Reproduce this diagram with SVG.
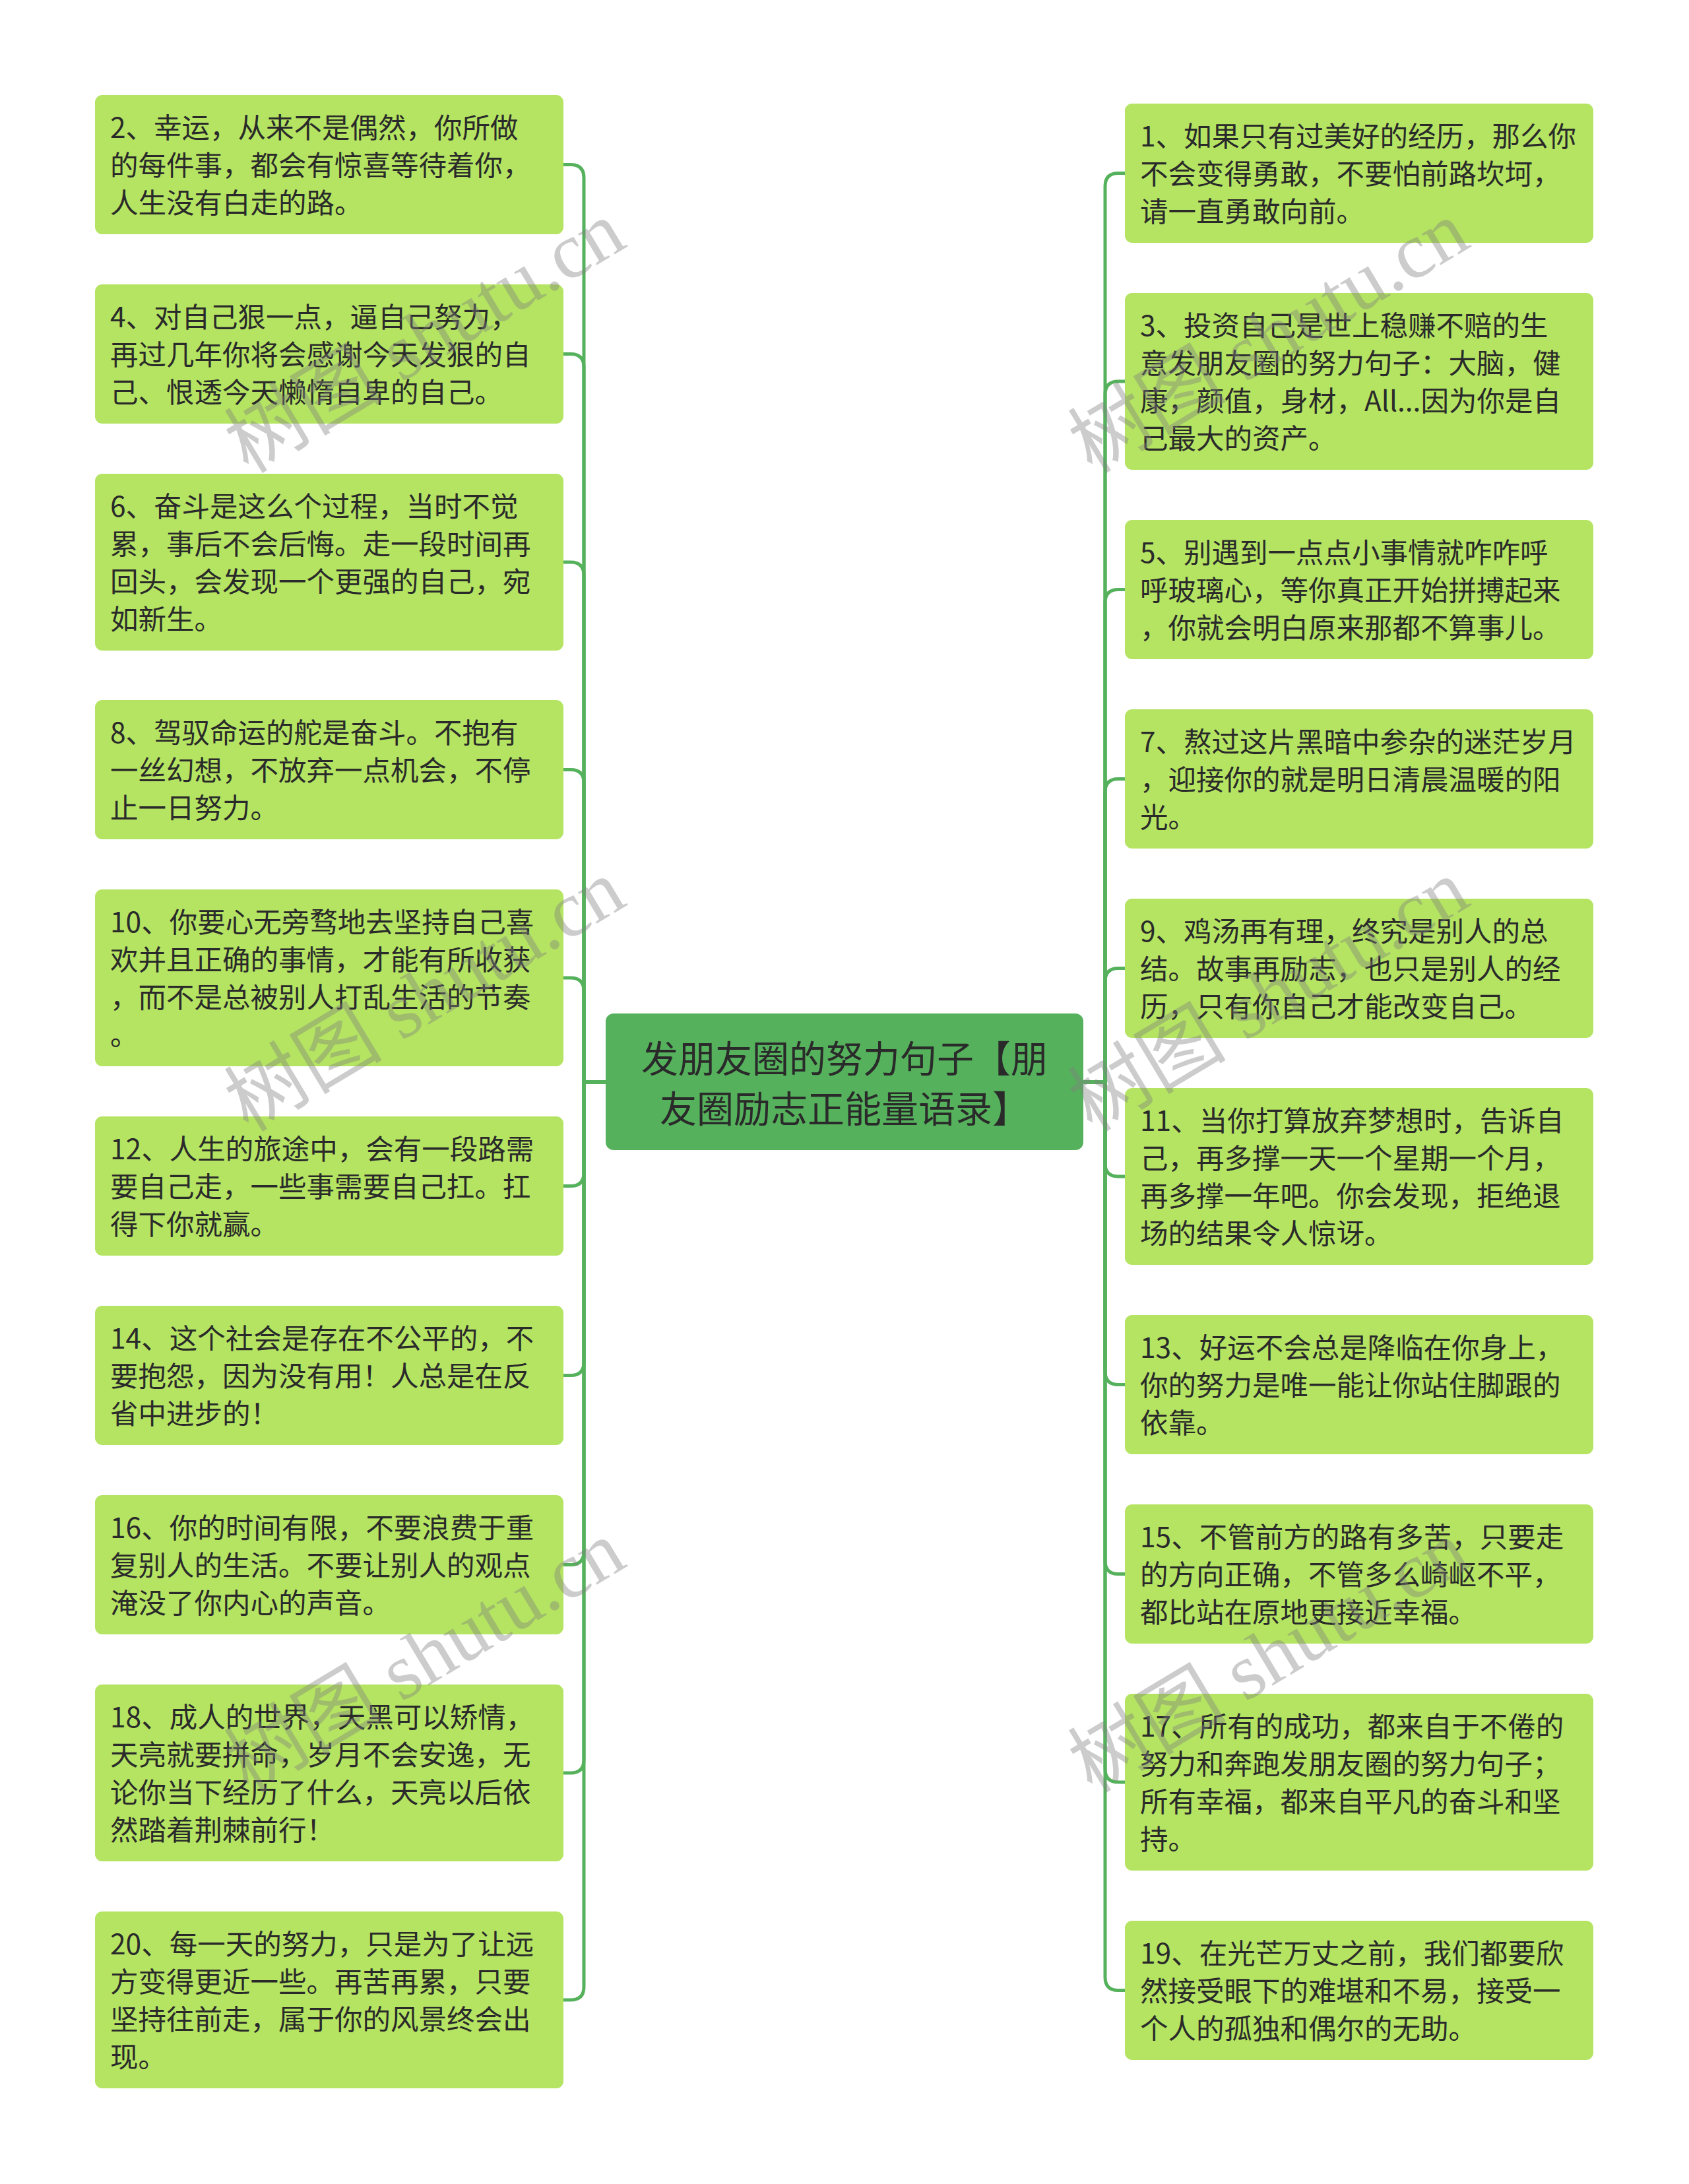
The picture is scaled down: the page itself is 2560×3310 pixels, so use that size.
<svg xmlns="http://www.w3.org/2000/svg" width="2560" height="3310" viewBox="0 0 2560 3310">
<style>
.bg{fill:#ffffff}
.node rect{fill:#b4e462}
.node text{font-family:"Noto Sans CJK SC","Noto Sans",sans-serif;font-size:42.5px;fill:#2a2a2a}
.root rect{fill:#55b15c}
.root text{font-family:"Noto Sans CJK SC","Noto Sans",sans-serif;font-size:56px;fill:#2a2a2a;text-anchor:middle}
.links path{fill:none;stroke:#55b15c;stroke-width:5}
.wm{font-family:"Liberation Serif","Noto Sans CJK SC",serif;font-size:120px;fill:#808080;fill-opacity:0.4;text-anchor:middle;dominant-baseline:central}
</style>
<rect class="bg" x="0" y="0" width="2560" height="3310"/>
<g id="connectors" class="links">
<path d="M918 1640H885V269.5Q885 249.5 865 249.5H853"/>
<path d="M918 1640H885V556.5Q885 536.5 865 536.5H853"/>
<path d="M918 1640H885V872Q885 852 865 852H853"/>
<path d="M918 1640H885V1186.5Q885 1166.5 865 1166.5H853"/>
<path d="M918 1640H885V1502Q885 1482 865 1482H853"/>
<path d="M918 1640H885V1777.5Q885 1797.5 865 1797.5H853"/>
<path d="M918 1640H885V2064.5Q885 2084.5 865 2084.5H853"/>
<path d="M918 1640H885V2351.5Q885 2371.5 865 2371.5H853"/>
<path d="M918 1640H885V2667Q885 2687 865 2687H853"/>
<path d="M918 1640H885V3011Q885 3031 865 3031H853"/>
<path d="M1642 1640H1675V282.5Q1675 262.5 1695 262.5H1705"/>
<path d="M1642 1640H1675V598Q1675 578 1695 578H1705"/>
<path d="M1642 1640H1675V913.5Q1675 893.5 1695 893.5H1705"/>
<path d="M1642 1640H1675V1200.5Q1675 1180.5 1695 1180.5H1705"/>
<path d="M1642 1640H1675V1487.5Q1675 1467.5 1695 1467.5H1705"/>
<path d="M1642 1640H1675V1763Q1675 1783 1695 1783H1705"/>
<path d="M1642 1640H1675V2078.5Q1675 2098.5 1695 2098.5H1705"/>
<path d="M1642 1640H1675V2365.5Q1675 2385.5 1695 2385.5H1705"/>
<path d="M1642 1640H1675V2681Q1675 2701 1695 2701H1705"/>
<path d="M1642 1640H1675V2996.5Q1675 3016.5 1695 3016.5H1705"/>
</g>
<g id="root" class="root">
<rect x="918" y="1536" width="724" height="207" rx="12"/>
<text x="1280" y="1625"><tspan x="1280">发朋友圈的努力句子【朋</tspan><tspan x="1280" dy="76">友圈励志正能量语录】</tspan></text>
</g>
<g id="n2" class="node"><rect x="144" y="144" width="710" height="211" rx="11"/>
<text x="167" y="208.5"><tspan x="167">2、幸运，从来不是偶然，你所做</tspan><tspan x="167" dy="57">的每件事，都会有惊喜等待着你，</tspan><tspan x="167" dy="57">人生没有白走的路。</tspan></text></g>
<g id="n4" class="node"><rect x="144" y="431" width="710" height="211" rx="11"/>
<text x="167" y="495.5"><tspan x="167">4、对自己狠一点，逼自己努力，</tspan><tspan x="167" dy="57">再过几年你将会感谢今天发狠的自</tspan><tspan x="167" dy="57">己、恨透今天懒惰自卑的自己。</tspan></text></g>
<g id="n6" class="node"><rect x="144" y="718" width="710" height="268" rx="11"/>
<text x="167" y="782.5"><tspan x="167">6、奋斗是这么个过程，当时不觉</tspan><tspan x="167" dy="57">累，事后不会后悔。走一段时间再</tspan><tspan x="167" dy="57">回头，会发现一个更强的自己，宛</tspan><tspan x="167" dy="57">如新生。</tspan></text></g>
<g id="n8" class="node"><rect x="144" y="1061" width="710" height="211" rx="11"/>
<text x="167" y="1125.5"><tspan x="167">8、驾驭命运的舵是奋斗。不抱有</tspan><tspan x="167" dy="57">一丝幻想，不放弃一点机会，不停</tspan><tspan x="167" dy="57">止一日努力。</tspan></text></g>
<g id="n10" class="node"><rect x="144" y="1348" width="710" height="268" rx="11"/>
<text x="167" y="1412.5"><tspan x="167">10、你要心无旁骛地去坚持自己喜</tspan><tspan x="167" dy="57">欢并且正确的事情，才能有所收获</tspan><tspan x="167" dy="57">，而不是总被别人打乱生活的节奏</tspan><tspan x="167" dy="57">。</tspan></text></g>
<g id="n12" class="node"><rect x="144" y="1692" width="710" height="211" rx="11"/>
<text x="167" y="1756.5"><tspan x="167">12、人生的旅途中，会有一段路需</tspan><tspan x="167" dy="57">要自己走，一些事需要自己扛。扛</tspan><tspan x="167" dy="57">得下你就赢。</tspan></text></g>
<g id="n14" class="node"><rect x="144" y="1979" width="710" height="211" rx="11"/>
<text x="167" y="2043.5"><tspan x="167">14、这个社会是存在不公平的，不</tspan><tspan x="167" dy="57">要抱怨，因为没有用！人总是在反</tspan><tspan x="167" dy="57">省中进步的！</tspan></text></g>
<g id="n16" class="node"><rect x="144" y="2266" width="710" height="211" rx="11"/>
<text x="167" y="2330.5"><tspan x="167">16、你的时间有限，不要浪费于重</tspan><tspan x="167" dy="57">复别人的生活。不要让别人的观点</tspan><tspan x="167" dy="57">淹没了你内心的声音。</tspan></text></g>
<g id="n18" class="node"><rect x="144" y="2553" width="710" height="268" rx="11"/>
<text x="167" y="2617.5"><tspan x="167">18、成人的世界，天黑可以矫情，</tspan><tspan x="167" dy="57">天亮就要拼命，岁月不会安逸，无</tspan><tspan x="167" dy="57">论你当下经历了什么，天亮以后依</tspan><tspan x="167" dy="57">然踏着荆棘前行！</tspan></text></g>
<g id="n20" class="node"><rect x="144" y="2897" width="710" height="268" rx="11"/>
<text x="167" y="2961.5"><tspan x="167">20、每一天的努力，只是为了让远</tspan><tspan x="167" dy="57">方变得更近一些。再苦再累，只要</tspan><tspan x="167" dy="57">坚持往前走，属于你的风景终会出</tspan><tspan x="167" dy="57">现。</tspan></text></g>
<g id="n1" class="node"><rect x="1705" y="157" width="710" height="211" rx="11"/>
<text x="1728" y="221.5"><tspan x="1728">1、如果只有过美好的经历，那么你</tspan><tspan x="1728" dy="57">不会变得勇敢，不要怕前路坎坷，</tspan><tspan x="1728" dy="57">请一直勇敢向前。</tspan></text></g>
<g id="n3" class="node"><rect x="1705" y="444" width="710" height="268" rx="11"/>
<text x="1728" y="508.5"><tspan x="1728">3、投资自己是世上稳赚不赔的生</tspan><tspan x="1728" dy="57">意发朋友圈的努力句子：大脑，健</tspan><tspan x="1728" dy="57">康，颜值，身材，All...因为你是自</tspan><tspan x="1728" dy="57">己最大的资产。</tspan></text></g>
<g id="n5" class="node"><rect x="1705" y="788" width="710" height="211" rx="11"/>
<text x="1728" y="852.5"><tspan x="1728">5、别遇到一点点小事情就咋咋呼</tspan><tspan x="1728" dy="57">呼玻璃心，等你真正开始拼搏起来</tspan><tspan x="1728" dy="57">，你就会明白原来那都不算事儿。</tspan></text></g>
<g id="n7" class="node"><rect x="1705" y="1075" width="710" height="211" rx="11"/>
<text x="1728" y="1139.5"><tspan x="1728">7、熬过这片黑暗中参杂的迷茫岁月</tspan><tspan x="1728" dy="57">，迎接你的就是明日清晨温暖的阳</tspan><tspan x="1728" dy="57">光。</tspan></text></g>
<g id="n9" class="node"><rect x="1705" y="1362" width="710" height="211" rx="11"/>
<text x="1728" y="1426.5"><tspan x="1728">9、鸡汤再有理，终究是别人的总</tspan><tspan x="1728" dy="57">结。故事再励志，也只是别人的经</tspan><tspan x="1728" dy="57">历，只有你自己才能改变自己。</tspan></text></g>
<g id="n11" class="node"><rect x="1705" y="1649" width="710" height="268" rx="11"/>
<text x="1728" y="1713.5"><tspan x="1728">11、当你打算放弃梦想时，告诉自</tspan><tspan x="1728" dy="57">己，再多撑一天一个星期一个月，</tspan><tspan x="1728" dy="57">再多撑一年吧。你会发现，拒绝退</tspan><tspan x="1728" dy="57">场的结果令人惊讶。</tspan></text></g>
<g id="n13" class="node"><rect x="1705" y="1993" width="710" height="211" rx="11"/>
<text x="1728" y="2057.5"><tspan x="1728">13、好运不会总是降临在你身上，</tspan><tspan x="1728" dy="57">你的努力是唯一能让你站住脚跟的</tspan><tspan x="1728" dy="57">依靠。</tspan></text></g>
<g id="n15" class="node"><rect x="1705" y="2280" width="710" height="211" rx="11"/>
<text x="1728" y="2344.5"><tspan x="1728">15、不管前方的路有多苦，只要走</tspan><tspan x="1728" dy="57">的方向正确，不管多么崎岖不平，</tspan><tspan x="1728" dy="57">都比站在原地更接近幸福。</tspan></text></g>
<g id="n17" class="node"><rect x="1705" y="2567" width="710" height="268" rx="11"/>
<text x="1728" y="2631.5"><tspan x="1728">17、所有的成功，都来自于不倦的</tspan><tspan x="1728" dy="57">努力和奔跑发朋友圈的努力句子；</tspan><tspan x="1728" dy="57">所有幸福，都来自平凡的奋斗和坚</tspan><tspan x="1728" dy="57">持。</tspan></text></g>
<g id="n19" class="node"><rect x="1705" y="2911" width="710" height="211" rx="11"/>
<text x="1728" y="2975.5"><tspan x="1728">19、在光芒万丈之前，我们都要欣</tspan><tspan x="1728" dy="57">然接受眼下的难堪和不易，接受一</tspan><tspan x="1728" dy="57">个人的孤独和偶尔的无助。</tspan></text></g>
<g id="watermarks">
<text class="wm" transform="translate(644 511) rotate(-31)">树图 shutu.cn</text>
<text class="wm" transform="translate(644 1509) rotate(-31)">树图 shutu.cn</text>
<text class="wm" transform="translate(644 2511) rotate(-31)">树图 shutu.cn</text>
<text class="wm" transform="translate(1923 511) rotate(-31)">树图 shutu.cn</text>
<text class="wm" transform="translate(1923 1509) rotate(-31)">树图 shutu.cn</text>
<text class="wm" transform="translate(1923 2511) rotate(-31)">树图 shutu.cn</text>
</g>
</svg>
